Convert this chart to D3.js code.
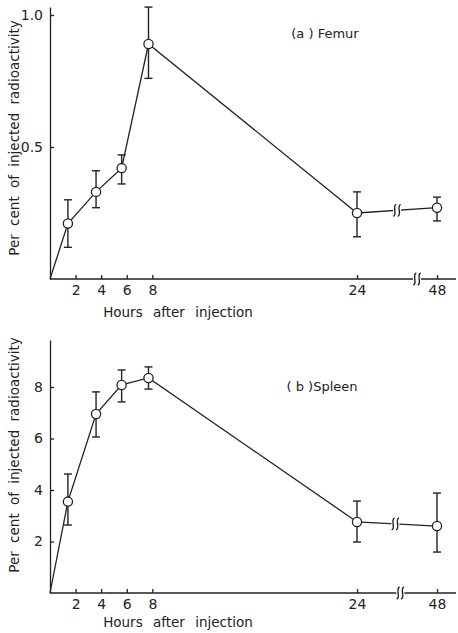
<!DOCTYPE html>
<html>
<head>
<meta charset="utf-8">
<script src="https://cdn.jsdelivr.net/npm/d3@7"></script>
<style>
    body { margin: 0; background: #fff; }
    svg text { font-family: "DejaVu Sans", sans-serif; fill: #222; }
    .axis path, .axis line { stroke: #222; stroke-width: 1.3; }
    .axis text { font-size: 14px; }
</style>
</head>
<body>
<div id="chart"></div>
<script>
// time points (hours after injection)
const hours = [1.4, 3.6, 5.6, 7.7, 24, 48];
const xTicks = [2, 4, 6, 8, 24, 48];

// (a) Femur, per cent of injected radioactivity
const femurMean  = [0.21, 0.33, 0.42, 0.89, 0.25, 0.27];
const femurUpper = [0.30, 0.41, 0.47, 1.03, 0.33, 0.31];
const femurLower = [0.12, 0.27, 0.36, 0.76, 0.16, 0.22];
const femurTicks = [0.5, 1.0];

// (b) Spleen
const spleenMean  = [3.55, 6.95, 8.08, 8.35, 2.76, 2.60];
const spleenUpper = [4.62, 7.81, 8.66, 8.78, 3.57, 3.88];
const spleenLower = [2.64, 6.06, 7.42, 7.92, 1.98, 1.59];
const spleenTicks = [2, 4, 6, 8];

const width = 458, height = 633;

const svg = d3.select("#chart").append("svg")
    .attr("width", width)
    .attr("height", height);

// broken x axis: 8 -> 24 linear, then squeezed to 48
const xScale = d3.scaleLinear()
    .domain([0, 24, 48, 53.5])
    .range([50, 357, 437, 456]);

function drawBreak(g, x, y)
{
    g.append("rect")
        .attr("x", x - 4).attr("y", y - 3)
        .attr("width", 8).attr("height", 6)
        .attr("fill", "#fff");
    for (const dx of [-2.2, 2.2])
    {
        // small S-shaped stroke
        g.append("path")
            .attr("d", `M${x + dx + 1.5},${y - 6} C${x + dx - 3},${y - 5} ${x + dx + 3},${y + 5} ${x + dx - 1.5},${y + 6}`)
            .attr("fill", "none")
            .attr("stroke", "#222")
            .attr("stroke-width", 1.4);
    }
}

function drawPanel(cfg)
{
    const g = svg.append("g");

    const yScale = d3.scaleLinear()
        .domain([0, cfg.yMax])
        .range([cfg.y0, cfg.y0 - cfg.yMax * cfg.pxPerUnit]);

    // x axis, ticks pointing inwards
    const xAxis = g.append("g")
        .attr("class", "axis")
        .attr("transform", `translate(0, ${cfg.y0})`)
        .call(d3.axisBottom(xScale)
            .tickValues(xTicks)
            .tickSizeInner(-4)
            .tickSizeOuter(0)
            .tickPadding(6)
            .tickFormat(d3.format("d")));
    xAxis.select(".domain").attr("d", `M50,0H456`);

    // y axis
    g.append("g")
        .attr("class", "axis")
        .attr("transform", `translate(50, 0)`)
        .call(d3.axisLeft(yScale)
            .tickValues(cfg.ticks)
            .tickSizeInner(-4)
            .tickSizeOuter(0)
            .tickPadding(7)
            .tickFormat(cfg.format));

    drawBreak(g, xScale(cfg.axisBreak), cfg.y0);

    // data line from the origin
    const pts = [[0, 0]].concat(hours.map((h, i) => [h, cfg.mean[i]]));
    g.append("path")
        .datum(pts)
        .attr("d", d3.line()
            .x((d) => xScale(d[0]))
            .y((d) => yScale(d[1])))
        .attr("fill", "none")
        .attr("stroke", "#222")
        .attr("stroke-width", 1.3);

    // break in the line between 24 and 48
    const bx = xScale(cfg.lineBreak);
    const t = (cfg.lineBreak - 24) / 24;
    const by = yScale(cfg.mean[4] + t * (cfg.mean[5] - cfg.mean[4]));
    drawBreak(g, bx, by);

    // error bars
    const eb = g.selectAll("g.err")
        .data(hours)
        .enter()
        .append("g")
        .attr("class", "err");

    eb.append("line")
        .attr("x1", (d) => xScale(d)).attr("x2", (d) => xScale(d))
        .attr("y1", (d, i) => yScale(cfg.upper[i]))
        .attr("y2", (d, i) => yScale(cfg.lower[i]));

    for (const arr of [cfg.upper, cfg.lower])
    {
        eb.append("line")
            .attr("x1", (d) => xScale(d) - 4).attr("x2", (d) => xScale(d) + 4)
            .attr("y1", (d, i) => yScale(arr[i]))
            .attr("y2", (d, i) => yScale(arr[i]));
    }
    eb.selectAll("line")
        .attr("stroke", "#222")
        .attr("stroke-width", 1.4);

    g.selectAll("circle")
        .data(hours)
        .enter()
        .append("circle")
        .attr("cx", (d) => xScale(d))
        .attr("cy", (d, i) => yScale(cfg.mean[i]))
        .attr("r", 4.6)
        .attr("fill", "#fff")
        .attr("stroke", "#222")
        .attr("stroke-width", 1.3);

    // labels
    g.append("text")
        .attr("x", 178)
        .attr("y", cfg.hoursY)
        .attr("text-anchor", "middle")
        .style("font-size", "13.5px")
        .style("word-spacing", "6px")
        .text("Hours after injection");

    g.append("text")
        .attr("transform", `translate(19, ${cfg.labelY}) rotate(-90)`)
        .attr("text-anchor", "middle")
        .style("font-size", "13.5px")
        .style("word-spacing", "4px")
        .text("Per cent of injected radioactivity");

    g.append("text")
        .attr("x", cfg.titleX)
        .attr("y", cfg.titleY)
        .attr("text-anchor", "middle")
        .style("font-size", "13px")
        .text(cfg.title);
}

drawPanel({
    mean: femurMean, upper: femurUpper, lower: femurLower,
    ticks: femurTicks, format: d3.format(".1f"),
    yMax: 1.03, y0: 279, pxPerUnit: 264,
    axisBreak: 42, lineBreak: 36,
    hoursY: 317, labelY: 138,
    title: "(a ) Femur", titleX: 325, titleY: 38
});

drawPanel({
    mean: spleenMean, upper: spleenUpper, lower: spleenLower,
    ticks: spleenTicks, format: d3.format("d"),
    yMax: 9.83, y0: 593, pxPerUnit: 25.75,
    axisBreak: 37, lineBreak: 35.5,
    hoursY: 627, labelY: 455,
    title: "( b )Spleen", titleX: 322, titleY: 391
});
</script>
</body>
</html>
